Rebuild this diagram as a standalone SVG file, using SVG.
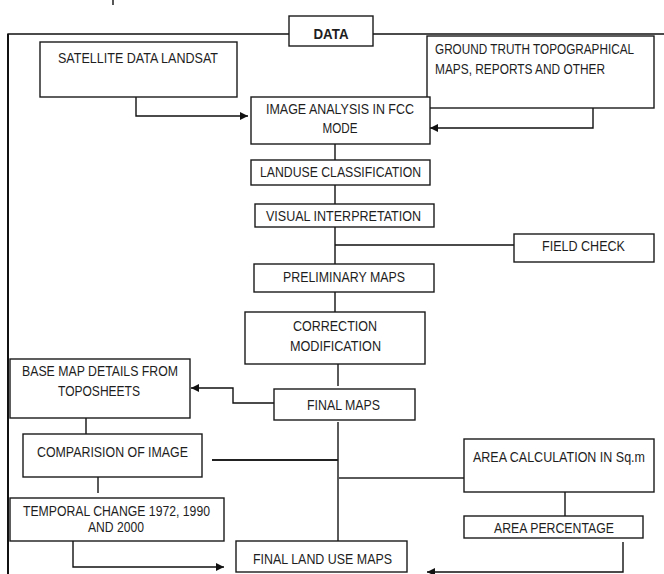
<svg xmlns="http://www.w3.org/2000/svg" width="664" height="574" viewBox="0 0 664 574">
<defs>
<marker id="arr" viewBox="0 0 10 10" refX="10" refY="5" markerWidth="8" markerHeight="8" markerUnits="userSpaceOnUse" orient="auto">
<path d="M0,0 L10,5 L0,10 z" fill="#111"/>
</marker>
<style>
.box{fill:#fff;stroke:#1a1a1a;stroke-width:1.4}
.t{font-family:"Liberation Sans Narrow","Liberation Sans",Arial,sans-serif;font-size:14px;fill:#1e1e1e}
.b{font-weight:bold}
.c{fill:none;stroke:#111;stroke-width:1.4}
.g{fill:none;stroke:#5a5a5a;stroke-width:2}
</style>
</defs>
<rect width="664" height="574" fill="#fff"/>
<g id="connectors">
<line x1="113" y1="0" x2="113" y2="5" class="c"/>
<path d="M664,34 H373 M289,34 H8 V574" class="c"/>
<line x1="8" y1="34" x2="8" y2="574" stroke="#111" stroke-width="2"/>
<path d="M136,97 V116 H248" class="c" marker-end="url(#arr)"/>
<path d="M593,108 V128 H430" class="c" marker-end="url(#arr)"/>
<path d="M335,144 V160" class="c"/>
<path d="M335,185 V204" class="c"/>
<path d="M335,227 V264 M335,245 H514" class="c"/>
<path d="M335,292 V312" class="c"/>
<path d="M338,364 V386" class="g"/>
<path d="M274,403 H233 V388 H191" class="c" marker-end="url(#arr)"/>
<path d="M338,422 V541 M338,478 H467 M212,460 H338" class="g"/>
<path d="M212,460 H338" class="c"/>
<path d="M86,414 V434" class="c"/>
<path d="M98,473 V493" class="g"/>
<path d="M565,492 V518" class="g"/>
<path d="M73,537 V567 H224" class="c" marker-end="url(#arr)"/>
<path d="M623,542 V572 H427" class="c" marker-end="url(#arr)"/>
</g>
<g id="data">
<rect x="289" y="16" width="84" height="30" class="box"/>
<text x="331" y="39" class="t b" text-anchor="middle" textLength="35" lengthAdjust="spacingAndGlyphs">DATA</text>
</g>
<g id="satellite">
<rect x="40" y="42" width="197" height="55" class="box"/>
<text x="138" y="63" class="t" text-anchor="middle" textLength="160" lengthAdjust="spacingAndGlyphs">SATELLITE DATA LANDSAT</text>
</g>
<g id="groundtruth">
<rect x="427" y="36" width="227" height="72" class="box"/>
<text x="435" y="54" class="t" textLength="199" lengthAdjust="spacingAndGlyphs">GROUND TRUTH TOPOGRAPHICAL</text>
<text x="435" y="74" class="t" textLength="170" lengthAdjust="spacingAndGlyphs">MAPS, REPORTS AND OTHER</text>
</g>
<g id="imageanalysis">
<rect x="251" y="97" width="179" height="47" class="box"/>
<text x="340" y="114" class="t" text-anchor="middle" textLength="148" lengthAdjust="spacingAndGlyphs">IMAGE ANALYSIS IN FCC</text>
<text x="340" y="133" class="t" text-anchor="middle" textLength="35" lengthAdjust="spacingAndGlyphs">MODE</text>
</g>
<g id="landuse">
<rect x="251" y="160" width="179" height="25" class="box"/>
<text x="340.5" y="177" class="t" text-anchor="middle" textLength="161" lengthAdjust="spacingAndGlyphs">LANDUSE CLASSIFICATION</text>
</g>
<g id="visual">
<rect x="255" y="204" width="179" height="23" class="box"/>
<text x="343.5" y="221" class="t" text-anchor="middle" textLength="155" lengthAdjust="spacingAndGlyphs">VISUAL INTERPRETATION</text>
</g>
<g id="fieldcheck">
<rect x="514" y="234" width="140" height="28" class="box"/>
<text x="583.5" y="251" class="t" text-anchor="middle" textLength="83" lengthAdjust="spacingAndGlyphs">FIELD CHECK</text>
</g>
<g id="preliminary">
<rect x="254" y="264" width="180" height="28" class="box"/>
<text x="344" y="282" class="t" text-anchor="middle" textLength="122" lengthAdjust="spacingAndGlyphs">PRELIMINARY MAPS</text>
</g>
<g id="correction">
<rect x="245" y="312" width="180" height="52" class="box"/>
<text x="335" y="331" class="t" text-anchor="middle" textLength="84" lengthAdjust="spacingAndGlyphs">CORRECTION</text>
<text x="335.5" y="351" class="t" text-anchor="middle" textLength="91" lengthAdjust="spacingAndGlyphs">MODIFICATION</text>
</g>
<g id="finalmaps">
<rect x="274" y="389" width="141" height="31" class="box"/>
<text x="343.5" y="410" class="t" text-anchor="middle" textLength="73" lengthAdjust="spacingAndGlyphs">FINAL MAPS</text>
</g>
<g id="basemap">
<rect x="10" y="359" width="180" height="59" class="box"/>
<text x="100" y="376" class="t" text-anchor="middle" textLength="156" lengthAdjust="spacingAndGlyphs">BASE MAP DETAILS FROM</text>
<text x="99" y="396" class="t" text-anchor="middle" textLength="82" lengthAdjust="spacingAndGlyphs">TOPOSHEETS</text>
</g>
<g id="comparision">
<rect x="23" y="434" width="179" height="43" class="box"/>
<text x="112.5" y="457" class="t" text-anchor="middle" textLength="151" lengthAdjust="spacingAndGlyphs">COMPARISION OF IMAGE</text>
</g>
<g id="temporal">
<rect x="10" y="498" width="214" height="43" class="box"/>
<text x="116.5" y="516" class="t" text-anchor="middle" textLength="187" lengthAdjust="spacingAndGlyphs">TEMPORAL CHANGE 1972, 1990</text>
<text x="116" y="532" class="t" text-anchor="middle" textLength="56" lengthAdjust="spacingAndGlyphs">AND 2000</text>
</g>
<g id="finalland">
<rect x="236" y="541" width="171" height="31" class="box"/>
<text x="322.5" y="564" class="t" text-anchor="middle" textLength="139" lengthAdjust="spacingAndGlyphs">FINAL LAND USE MAPS</text>
</g>
<g id="areacalc">
<rect x="464" y="439" width="190" height="53" class="box"/>
<text x="559" y="462" class="t" text-anchor="middle" textLength="172" lengthAdjust="spacingAndGlyphs">AREA CALCULATION IN Sq.m</text>
</g>
<g id="areapercent">
<rect x="464" y="516" width="179" height="22" class="box"/>
<text x="554" y="533" class="t" text-anchor="middle" textLength="120" lengthAdjust="spacingAndGlyphs">AREA PERCENTAGE</text>
</g>
</svg>
